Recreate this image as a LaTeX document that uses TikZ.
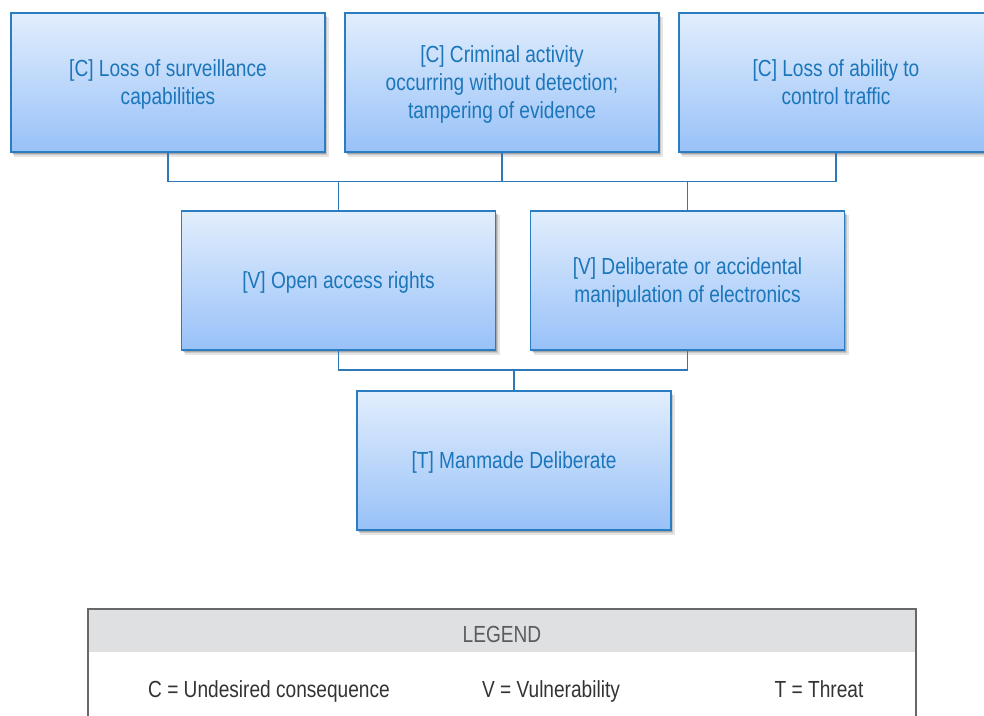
\documentclass[tikz,border=0pt]{standalone}
\usepackage{fontspec}
\setmainfont{Liberation Sans}[FakeStretch=0.82]
\definecolor{boxtop}{HTML}{E2EEFD}
\definecolor{boxbot}{HTML}{98C1F8}
\definecolor{boxline}{HTML}{2A7DC0}
\definecolor{boxtext}{HTML}{1B76BA}
\definecolor{conn}{HTML}{2E78B8}
\definecolor{leghead}{HTML}{DFE0E2}
\definecolor{legline}{HTML}{686868}
\definecolor{legtext}{HTML}{333333}
\tikzset{
  riskbox/.style={rectangle, draw=boxline, line width=1.4pt, top color=boxtop, bottom color=boxbot,
    minimum width=314pt, minimum height=139pt, align=center, text=boxtext,
    font=\fontsize{23.3}{28}\selectfont, inner sep=0pt, text depth=0pt},
  connline/.style={draw=conn, line width=1.3pt},
  legtxt/.style={text=legtext, font=\fontsize{23.3}{27}\selectfont, inner sep=0pt, anchor=base}
}
\begin{document}
\begin{tikzpicture}[x=1pt,y=-1pt]
\useasboundingbox (0,0) rectangle (984,715);
\clip (0,0) rectangle (984,715);
% shadows
\foreach \cx/\cy in {168/82.5, 502/82.5, 836/82.5, 338.5/280.5, 687.5/280.5, 514/460.5}{
  \fill[black, opacity=0.10] (\cx-154,\cy-66) rectangle (\cx+161,\cy+74);
  \fill[black, opacity=0.13] (\cx-155,\cy-67) rectangle (\cx+159,\cy+72.5);
  \fill[black, opacity=0.16] (\cx-156,\cy-68) rectangle (\cx+158,\cy+71);
}
% boxes
\node[riskbox] (c1) at (168,82.5) {[C] Loss of surveillance\\capabilities};
\node[riskbox] (c2) at (502,82.5) {[C] Criminal activity\\occurring without detection;\\tampering of evidence};
\node[riskbox] (c3) at (836,82.5) {[C] Loss of ability to\\control traffic};
\node[riskbox] (v1) at (338.5,280.5) {[V] Open access rights};
\node[riskbox] (v2) at (687.5,280.5) {[V] Deliberate or accidental\\manipulation of electronics};
\node[riskbox] (t1) at (514,460.5) {[T] Manmade Deliberate};
% connectors
\coordinate (bus1) at (502,181.5);
\coordinate (bus2) at (514,370);
\draw[connline] (c1.south) |- (bus1) -| (c3.south);
\draw[connline] (c2.south) -- (bus1);
\draw[connline] (v1.north) -- (v1.north |- bus1);
\draw[connline] (v2.north) -- (v2.north |- bus1);
\draw[connline] (v1.south) |- (bus2) -| (v2.south);
\draw[connline] (t1.north) -- (bus2);
% legend
\fill[leghead] (88,609) rectangle (916,652);
\draw[legline, line width=1.8pt] (88,740) -- (88,609) -- (916,609) -- (916,740);
\node[legtxt, text=legtext!80!white] (lg) at (502,642) {LEGEND};
\node[legtxt] (lc) at (269,697) {C = Undesired consequence};
\node[legtxt] (lv) at (551,697) {V = Vulnerability};
\node[legtxt] (lt) at (819,697) {T = Threat};
\end{tikzpicture}
\end{document}
